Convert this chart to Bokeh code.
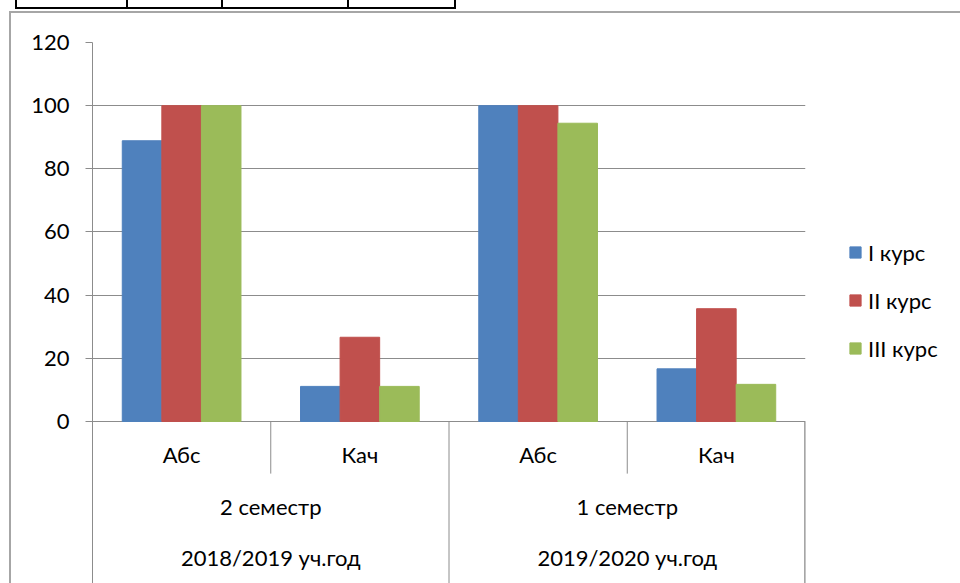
from bokeh.plotting import figure
from bokeh.layouts import row
from bokeh.models import (ColumnDataSource, FactorRange, Range1d, FixedTicker,
                          Legend, LegendItem)
from bokeh.transform import dodge
from bokeh.core.properties import value
from bokeh.embed import file_html
from bokeh.resources import INLINE

# ---- data ----
years = ["2018/2019 уч.год", "2018/2019 уч.год", "2019/2020 уч.год", "2019/2020 уч.год"]
semesters = ["2 семестр", "2 семестр", "1 семестр", "1 семестр"]
metrics = ["Абс", "Кач", "Абс", "Кач"]
series_names = ["I курс", "II курс", "III курс"]
course1 = [88.89, 11.11, 100.0, 16.67]
course2 = [100.0, 26.67, 100.0, 35.71]
course3 = [100.0, 11.11, 94.44, 11.76]
y_ticks = [0, 20, 40, 60, 80, 100, 120]

colors = ["#4F81BD", "#C0504D", "#9BBB59"]
FONT_NAME = "Lato"
FONT = value(FONT_NAME)
FS = "22px"
GRID = "#8c8c8c"

factors = list(zip(years, semesters, metrics))
src = ColumnDataSource(dict(x=factors, c1=course1, c2=course2, c3=course3))

x_range = FactorRange(*factors, factor_padding=0, subgroup_padding=0,
                      group_padding=0, range_padding=0)
p = figure(width=848, height=583, x_range=x_range, y_range=Range1d(-51.3, 120),
           x_axis_location=None, output_backend="svg", toolbar_location=None,
           min_border_left=92, min_border_right=43, min_border_top=42,
           min_border_bottom=0)
p.outline_line_color = None
p.background_fill_color = "white"
p.border_fill_color = None

# bars
bw = 0.222
renderers = []
for i, (col, off) in enumerate(zip(["c1", "c2", "c3"], [-bw, 0, bw])):
    r = p.vbar(x=dodge("x", off, range=p.x_range), top=col, width=bw, source=src,
               fill_color=colors[i], line_color=colors[i])
    renderers.append(r)

# y axis and grid
p.yaxis.ticker = FixedTicker(ticks=y_ticks)
p.yaxis.minor_tick_line_color = None
p.yaxis.major_tick_in = 0
p.yaxis.major_tick_out = 7
p.yaxis.axis_line_color = GRID
p.yaxis.major_tick_line_color = GRID
p.yaxis.major_label_text_font = FONT_NAME
p.yaxis.major_label_text_font_size = FS
p.yaxis.major_label_text_color = "#000000"
p.yaxis.major_label_standoff = 16
p.ygrid.ticker = FixedTicker(ticks=y_ticks)
p.ygrid.grid_line_color = GRID
p.xgrid.visible = False

# category axis drawn through the factor range
kach = [f for f in factors if f[2] == "Кач"]
abs_ = [f for f in factors if f[2] == "Абс"]
short_src = ColumnDataSource(dict(x=kach))
p.segment(x0=dodge("x", -0.5, range=p.x_range), x1=dodge("x", -0.5, range=p.x_range),
          y0=0, y1=-16.5, source=short_src, line_color=GRID, line_width=1)
long_left = ColumnDataSource(dict(x=abs_[1:]))
p.segment(x0=dodge("x", -0.5, range=p.x_range), x1=dodge("x", -0.5, range=p.x_range),
          y0=0, y1=-60, source=long_left, line_color=GRID, line_width=1)
long_right = ColumnDataSource(dict(x=[factors[-1]]))
p.segment(x0=dodge("x", 0.4985, range=p.x_range), x1=dodge("x", 0.4985, range=p.x_range),
          y0=0, y1=-60, source=long_right, line_color=GRID, line_width=2)

metric_src = ColumnDataSource(dict(x=factors, t=metrics))
p.text(x="x", y=-10.5, text="t", source=metric_src, text_align="center",
       text_baseline="middle", text_font=FONT, text_font_size=FS, text_color="#000000")

sem_pairs = []
for y, s in zip(years, semesters):
    if (y, s) not in sem_pairs:
        sem_pairs.append((y, s))
sem_src = ColumnDataSource(dict(x=sem_pairs, t=[s for _, s in sem_pairs]))
p.text(x="x", y=-26.9, text="t", source=sem_src, text_align="center",
       text_baseline="middle", text_font=FONT, text_font_size=FS, text_color="#000000")

year_list = []
for y in years:
    if y not in year_list:
        year_list.append(y)
year_src = ColumnDataSource(dict(x=year_list, t=year_list))
p.text(x="x", y=-43.2, text="t", source=year_src, text_align="center",
       text_baseline="middle", text_font=FONT, text_font_size=FS, text_color="#000000")

# legend panel: a separate figure to the right; its bar renderers use the same
# data and styles, but its y range lies outside the data so only the legend shows
pl = figure(width=112, height=583, x_range=FactorRange(*factors),
            y_range=Range1d(1000, 1001),
            x_axis_location=None, y_axis_location=None,
            output_backend="svg", toolbar_location=None, min_border=0)
pl.outline_line_color = None
pl.background_fill_color = None
pl.border_fill_color = None
pl.grid.visible = False
proxies = [pl.vbar(x="x", top=col, width=bw, source=src, fill_color=c, line_color=c)
           for col, c in zip(["c1", "c2", "c3"], colors)]
legend = Legend(items=[LegendItem(label=n, renderers=[r]) for n, r in zip(series_names, proxies)],
                location=(0, 221), glyph_width=14, glyph_height=14, label_standoff=6,
                label_height=28, spacing=20, padding=0, margin=0,
                border_line_color=None, background_fill_alpha=0,
                label_text_font=FONT_NAME, label_text_font_size=FS,
                label_text_color="#000000")
pl.add_layout(legend)

lay = row(p, pl, spacing=0)
line = "#a6a6a6"
blk = "#000000"
lay.styles = {
    "background": ", ".join([
        f"linear-gradient({line},{line}) 9px 11px / 2px calc(100% - 11px) no-repeat",
        f"linear-gradient({line},{line}) 9px 11px / calc(100% - 9px) 2px no-repeat",
        f"linear-gradient({blk},{blk}) 15px 7px / 441px 2px no-repeat",
        f"linear-gradient({blk},{blk}) 15px 0px / 2px 9px no-repeat",
        f"linear-gradient({blk},{blk}) 126px 0px / 2px 9px no-repeat",
        f"linear-gradient({blk},{blk}) 221px 0px / 2px 9px no-repeat",
        f"linear-gradient({blk},{blk}) 347px 0px / 2px 9px no-repeat",
        f"linear-gradient({blk},{blk}) 454px 0px / 2px 9px no-repeat",
        "#ffffff",
    ])
}

open("out.html", "w").write(file_html(lay, INLINE))
